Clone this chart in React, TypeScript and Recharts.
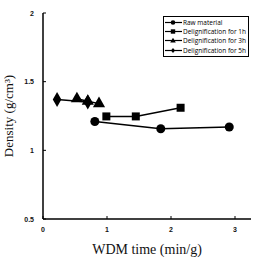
import React from "react";
import {
  ScatterChart,
  Scatter,
  XAxis,
  YAxis,
  ZAxis,
  Label,
} from "recharts";

// WDM time (min/g) vs density (g/cm³) for each treatment
const rawX = [0.81, 1.84, 2.91];
const rawY = [1.21, 1.157, 1.17];
const h1X = [0.99, 1.45, 2.15];
const h1Y = [1.247, 1.247, 1.31];
const h3X = [0.53, 0.7, 0.875];
const h3Y = [1.376, 1.358, 1.34];
const h5X = [0.22, 0.7];
const h5Y = [1.37, 1.352];

const xTicks = [0, 1, 2, 3];
const yTicks = [0.5, 1, 1.5, 2];

const toPoints = (xs: number[], ys: number[]) =>
  xs.map((x, i) => ({ x, y: ys[i] }));

const series = [
  { name: "Raw material", data: toPoints(rawX, rawY), shape: "circle", size: 26 },
  { name: "Delignification for 1h", data: toPoints(h1X, h1Y), shape: "square", size: 26 },
  { name: "Delignification for 3h", data: toPoints(h3X, h3Y), shape: "triangle", size: 24 },
  { name: "Delignification for 5h", data: toPoints(h5X, h5Y), shape: "diamond", size: 16 },
];

const tickFont = {
  fontFamily: "'Liberation Sans', Arial, sans-serif",
  fontSize: 7,
  fontWeight: 700,
  fill: "#111",
};

const YTick = (props: any) => {
  const { x, y, payload } = props;
  return (
    <g>
      <text x={x} y={y} dy={2.5} textAnchor="end" {...tickFont}>
        {payload.value}
      </text>
      <line x1={x + 9} x2={x + 12} y1={y} y2={y} stroke="#000" strokeWidth={1} />
    </g>
  );
};

const XTick = (props: any) => {
  const { x, y, payload } = props;
  return (
    <g>
      <text x={x} y={y} dy={6} textAnchor="middle" {...tickFont}>
        {payload.value}
      </text>
      <line x1={x} x2={x} y1={y - 7} y2={y - 10} stroke="#000" strokeWidth={1} />
    </g>
  );
};

const Marker = ({ shape }: { shape: string }) => {
  const cx = 8;
  const cy = 4.5;
  let m: React.ReactNode = null;
  if (shape === "circle") m = <circle cx={cx} cy={cy} r={2.3} fill="#000" />;
  if (shape === "square") m = <rect x={cx - 2.2} y={cy - 2.2} width={4.4} height={4.4} fill="#000" />;
  if (shape === "triangle")
    m = <polygon points={`${cx},${cy - 2.8} ${cx + 2.8},${cy + 2} ${cx - 2.8},${cy + 2}`} fill="#000" />;
  if (shape === "diamond")
    m = <polygon points={`${cx},${cy - 2.6} ${cx + 2},${cy} ${cx},${cy + 2.6} ${cx - 2},${cy}`} fill="#000" />;
  return (
    <svg width={17} height={9} style={{ display: "block" }}>
      <line x1={0} x2={17} y1={cy} y2={cy} stroke="#000" strokeWidth={1.2} />
      {m}
    </svg>
  );
};

const LegendBox = () => (
  <div
    style={{
      position: "absolute",
      left: 163,
      top: 16,
      width: 86,
      border: "1.5px solid #000",
      background: "#fff",
      padding: "1px 0 1px 1px",
      fontFamily: "'Open Sans', 'Liberation Sans', sans-serif",
      fontSize: 6.5,
      lineHeight: "9.2px",
      color: "#000",
      boxSizing: "border-box",
    }}
  >
    {series.map((s) => (
      <div key={s.name} style={{ display: "flex", alignItems: "center", height: 9.2 }}>
        <Marker shape={s.shape} />
        <span style={{ marginLeft: 1, whiteSpace: "nowrap" }}>{s.name}</span>
      </div>
    ))}
  </div>
);

export default function App() {
  return (
    <div style={{ position: "fixed", left: 0, top: 0, width: 257, height: 260, background: "#fff" }}>
      <ScatterChart
        width={257}
        height={260}
        margin={{ top: 13, right: 6, bottom: 0, left: 0 }}
      >
        <XAxis
          xAxisId="top"
          orientation="top"
          type="number"
          dataKey="x"
          domain={[0, 3.25]}
          height={0}
          tick={false}
          tickLine={false}
          axisLine={{ stroke: "#000", strokeWidth: 1.5 }}
        />
        <YAxis
          yAxisId="right"
          orientation="right"
          type="number"
          dataKey="y"
          domain={[0.5, 2]}
          width={0}
          tick={false}
          tickLine={false}
          axisLine={{ stroke: "#000", strokeWidth: 1.5 }}
        />
        <XAxis
          type="number"
          dataKey="x"
          domain={[0, 3.25]}
          ticks={xTicks}
          height={41}
          tickSize={0}
          tickMargin={7}
          tickLine={false}
          tick={<XTick />}
          axisLine={{ stroke: "#000", strokeWidth: 1.5 }}
        >
          <Label
            value="WDM time (min/g)"
            position="insideBottom"
            offset={6}
            style={{ fontFamily: "'Liberation Serif', serif", fontSize: 14, fill: "#111" }}
          />
        </XAxis>
        <YAxis
          type="number"
          dataKey="y"
          domain={[0.5, 2]}
          ticks={yTicks}
          width={43}
          tickSize={0}
          tickMargin={9}
          tickLine={false}
          tick={<YTick />}
          axisLine={{ stroke: "#000", strokeWidth: 1.5 }}
        >
          <Label
            value="Density (g/cm³)"
            angle={-90}
            position="insideLeft"
            offset={8}
            style={{ textAnchor: "middle", fontFamily: "'Liberation Serif', serif", fontSize: 13, fill: "#111" }}
          />
        </YAxis>
        <ZAxis type="number" range={[26, 26]} />
        {series.map((s) => (
          <Scatter
            key={s.name}
            name={s.name}
            data={s.data}
            shape={s.shape as any}
            fill="#000"
            line={{ stroke: "#000", strokeWidth: 1.5 }}
            lineJointType="linear"
            isAnimationActive={false}
          />
        ))}
      </ScatterChart>
      <LegendBox />
    </div>
  );
}
